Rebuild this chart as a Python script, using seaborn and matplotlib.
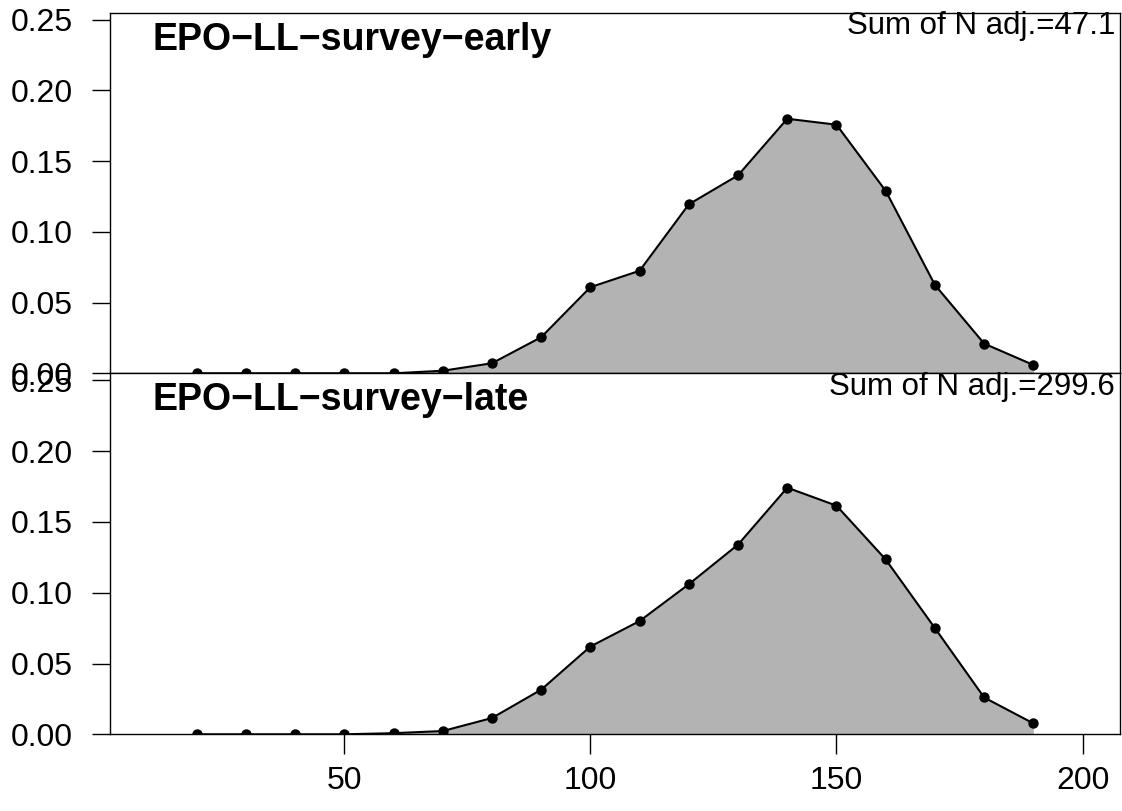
import numpy as np
import pandas as pd
import seaborn as sns
import matplotlib.pyplot as plt

## data
length_bins = [20, 30, 40, 50, 60, 70, 80, 90, 100, 110, 120, 130, 140, 150, 160, 170, 180, 190]
early_prop = [0.0, 0.0, 0.0, 0.0, 0.0, 0.0018, 0.0071, 0.0255, 0.0609, 0.0725, 0.1195, 0.1400,
              0.1800, 0.1758, 0.1290, 0.0625, 0.0210, 0.0059]
late_prop = [0.0, 0.0, 0.0, 0.0, 0.0008, 0.0023, 0.0115, 0.0315, 0.0620, 0.0800, 0.1060, 0.1340,
             0.1742, 0.1615, 0.1235, 0.0750, 0.0260, 0.0077]
panel_titles = ['EPO\u2212LL\u2212survey\u2212early', 'EPO\u2212LL\u2212survey\u2212late']
sum_labels = ['Sum of N adj.=47.1', 'Sum of N adj.=299.6']
y_ticks = [0.00, 0.05, 0.10, 0.15, 0.20, 0.25]
x_ticks = [50, 100, 150, 200]

sns.set_style('white')
plt.rcParams['font.family'] = ['Liberation Sans', 'DejaVu Sans']
plt.rcParams['text.color'] = 'black'
plt.rcParams['xtick.color'] = 'black'
plt.rcParams['ytick.color'] = 'black'

## figure
W, H = 1122, 811
fig = plt.figure(figsize=(W / 100, H / 100), dpi=100)
left, right = 110, 1120
rows = [(12.7, 373.3), (373.3, 734.3)]
axes = []
for top, bottom in rows:
    ax = fig.add_axes([left / W, 1 - bottom / H, (right - left) / W, (bottom - top) / H])
    axes.append(ax)

for ax, props, title, sum_lab in zip(axes, [early_prop, late_prop], panel_titles, sum_labels):
    df = pd.DataFrame({'length': length_bins, 'prop': props})
    ax.fill_between(df['length'], 0, df['prop'], color='#b3b3b3', linewidth=0)
    sns.lineplot(x='length', y='prop', data=df, color='black', linewidth=1.5,
                 marker='o', markersize=7.5, markeredgewidth=0, ax=ax)
    ax.set_xlim(2.4, 207.6)
    ax.set_ylim(0, 0.255)
    ax.set_yticks(y_ticks)
    ax.set_yticklabels(['%.2f' % v for v in y_ticks])
    ax.set_xlabel('')
    ax.set_ylabel('')
    for s in ax.spines.values():
        s.set_visible(True)
        s.set_color('black')
        s.set_linewidth(1.0)
    ax.tick_params(axis='y', direction='out', length=13, width=1.0, pad=14,
                   labelsize=23, left=True, colors='black')
    ax.text(0.0416, 0.975, title, transform=ax.transAxes, ha='left', va='top',
            fontsize=27, fontweight='bold', color='black')
    ax.text(0.995, 1.004, sum_lab, transform=ax.transAxes, ha='right', va='top',
            fontsize=22.5, color='black')

axes[0].set_xticks([])
axes[1].set_xticks(x_ticks)
axes[1].tick_params(axis='x', direction='out', length=14.5, width=1.0, pad=8,
                    labelsize=23, bottom=True, colors='black')

plt.savefig('out.png', dpi=100)
